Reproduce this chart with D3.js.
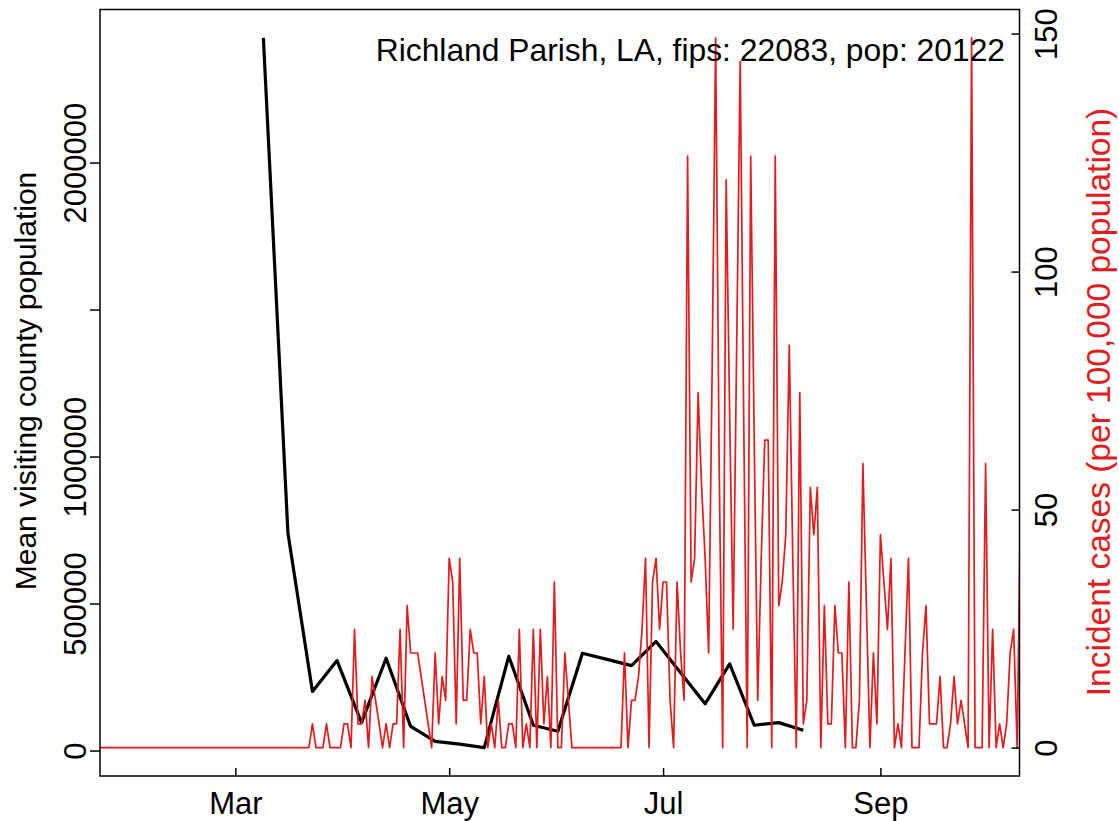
<!DOCTYPE html>
<html>
<head>
<meta charset="utf-8">
<script src="https://cdn.jsdelivr.net/npm/d3@7/dist/d3.min.js"></script>
<style>
  html, body { margin: 0; padding: 0; background: #fff; }
  svg text { font-family: "Liberation Sans", Arial, Helvetica, sans-serif; }
</style>
</head>
<body>
<svg id="chart" width="1119" height="821"></svg>
<script>
// ---------------- data ----------------
const titleText = "Richland Parish, LA, fips: 22083, pop: 20122";
const leftLabel = "Mean visiting county population";
const rightLabel = "Incident cases (per 100,000 population)";

// weekly mean visiting county population (black line)
const visitDates = ["2020-03-09","2020-03-16","2020-03-23","2020-03-30","2020-04-06","2020-04-13",
  "2020-04-20","2020-04-27","2020-05-04","2020-05-11","2020-05-18","2020-05-25","2020-06-01",
  "2020-06-08","2020-06-15","2020-06-22","2020-06-29","2020-07-06","2020-07-13","2020-07-20",
  "2020-07-27","2020-08-03","2020-08-10"];
const visitPop = [2424000, 740000, 201000, 306000, 95000, 314000,
  82000, 31500, 22000, 10000, 321000, 86000, 65500,
  331000, 310000, 289000, 371000, 265000, 159000, 295000,
  86000, 95000, 69000];

// daily incident cases per 100,000 (red line), starting at caseStart
const caseStart = "2020-01-21";
const incidentCases = [
  0,0,0,0,0,0,0,0,0,0, 0,0,0,0,0,0,0,0,0,0, 0,0,0,0,0,0,0,0,0,0,
  0,0,0,0,0,0,0,0,0,0, 0,0,0,0,0,0,0,0,0,0, 0,0,0,0,0,0,0,0,0,0,
  0,0,
  4.97,0,0,0,4.97,0,0,0,0,4.97,
  4.97,0,24.85,4.97,4.97,9.94,0,14.91,9.94,4.97,
  0,4.97,0,4.97,4.97,24.85,0,29.82,19.88,19.88,
  19.88,14.91,9.94,4.97,0,19.88,4.97,14.91,9.94,39.76,
  34.79,4.97,39.76,9.94,9.94,24.85,19.88,19.88,4.97,14.91,
  0,4.97,0,9.94,0,0,4.97,4.97,0,24.85,
  0,4.97,0,24.85,0,24.85,4.97,14.91,0,34.79,
  0,0,19.88,9.94,0,0,0,0,0,0,
  0,0,0,0,0,0,0,0,0,19.88,
  0,9.94,9.94,14.91,24.85,39.76,0,34.79,39.76,24.85,
  34.79,34.79,9.94,0,34.79,19.88,9.94,124.24,34.79,39.76,
  74.54,54.67,39.76,19.88,79.52,149.09,59.64,0,119.27,69.58,
  24.85,84.48,144.12,69.58,0,124.24,64.61,9.94,39.76,64.61,
  64.61,0,124.24,29.82,34.79,44.73,84.48,39.76,0,74.54,
  4.97,9.94,54.67,44.73,54.67,0,29.82,4.97,4.97,29.82,
  19.88,19.88,0,34.79,0,0,9.94,59.64,29.82,0,
  19.88,4.97,44.73,34.79,24.85,39.76,0,4.97,0,19.88,
  39.76,0,0,0,19.88,29.82,4.97,4.97,4.97,14.91,
  0,0,4.97,14.91,4.97,9.94,4.97,0,149.09,0,
  0,0,59.64,0,24.85,0,4.97,0,4.97,19.88,
  24.85,0,54.67
];

const xDomain = ["2020-01-22T09:36:00", "2020-10-10T16:00:00"];
const xTickDates = ["2020-03-01","2020-05-01","2020-07-01","2020-09-01"];
const xTickLabels = ["Mar","May","Jul","Sep"];
const leftTicks = [0, 500000, 1000000, 1500000, 2000000];
const leftTickLabels = ["0","500000","1000000","","2000000"];
const rightTicks = [0, 50, 100, 150];
const rightTickLabels = ["0","50","100","150"];

// ---------------- layout ----------------
const box = {left: 100, right: 1019.5, top: 9.5, bottom: 776};
const FONT = 31;
const RED = "#E41A1C";

const parse = d3.timeParse("%Y-%m-%d");
const parseT = d3.timeParse("%Y-%m-%dT%H:%M:%S");

const svg = d3.select("#chart");

const x = d3.scaleTime()
  .domain(xDomain.map(parseT))
  .range([box.left, box.right]);

function padded(ext) {
  const r = ext[1] - ext[0];
  return [ext[0] - 0.04 * r, ext[1] + 0.04 * r];
}
const yL = d3.scaleLinear().domain(padded(d3.extent(visitPop))).range([box.bottom, box.top]);
const yR = d3.scaleLinear().domain(padded(d3.extent(incidentCases))).range([box.bottom, box.top]);

const startDate = parse(caseStart);
const redData = incidentCases.map((v, i) => ({date: d3.timeDay.offset(startDate, i), v}));
const blackData = visitDates.map((d, i) => ({date: parse(d), v: visitPop[i]}));

svg.append("defs").append("clipPath").attr("id", "clip")
  .append("rect")
  .attr("x", box.left).attr("y", box.top)
  .attr("width", box.right - box.left).attr("height", box.bottom - box.top);

const plot = svg.append("g").attr("clip-path", "url(#clip)");

plot.append("path")
  .datum(blackData)
  .attr("fill", "none")
  .attr("stroke", "#000")
  .attr("stroke-width", 3.2)
  .attr("stroke-linejoin", "round")
  .attr("d", d3.line().x(d => x(d.date)).y(d => yL(d.v)));

plot.append("path")
  .datum(redData)
  .attr("fill", "none")
  .attr("stroke", RED)
  .attr("stroke-width", 1.7)
  .attr("stroke-linejoin", "round")
  .attr("d", d3.line().x(d => x(d.date)).y(d => yR(d.v)));

// box
svg.append("rect")
  .attr("x", box.left).attr("y", box.top)
  .attr("width", box.right - box.left).attr("height", box.bottom - box.top)
  .attr("fill", "none").attr("stroke", "#000").attr("stroke-width", 1.5);

// bottom axis (ticks inward)
const xAxis = d3.axisBottom(x)
  .tickValues(xTickDates.map(parse))
  .tickFormat((d, i) => xTickLabels[i])
  .tickSize(-8);
const gx = svg.append("g").attr("transform", `translate(0,${box.bottom})`).call(xAxis);
gx.select(".domain").remove();
gx.selectAll(".tick line").attr("stroke", "#000").attr("stroke-width", 1.5);
gx.selectAll(".tick text")
  .attr("y", 38).attr("dy", null)
  .attr("fill", "#000")
  .style("font-size", FONT + "px");

// left axis (ticks outward)
const yAxisL = d3.axisLeft(yL)
  .tickValues(leftTicks)
  .tickFormat((d, i) => leftTickLabels[i])
  .tickSize(10);
const gl = svg.append("g").attr("transform", `translate(${box.left},0)`).call(yAxisL);
gl.select(".domain").remove();
gl.selectAll(".tick line").attr("stroke", "#000").attr("stroke-width", 1.5);
gl.selectAll(".tick text")
  .attr("x", null).attr("dy", null)
  .attr("text-anchor", "middle")
  .attr("transform", "translate(-14,0) rotate(-90)")
  .attr("fill", "#000")
  .style("font-size", FONT + "px");

// right axis (ticks inward)
const yAxisR = d3.axisRight(yR)
  .tickValues(rightTicks)
  .tickFormat((d, i) => rightTickLabels[i])
  .tickSize(-8);
const gr = svg.append("g").attr("transform", `translate(${box.right},0)`).call(yAxisR);
gr.select(".domain").remove();
gr.selectAll(".tick line").attr("stroke", "#000").attr("stroke-width", 1.5);
gr.selectAll(".tick text")
  .attr("x", null).attr("dy", null)
  .attr("text-anchor", "middle")
  .attr("transform", "translate(37,0) rotate(-90)")
  .attr("fill", "#000")
  .style("font-size", FONT + "px");

svg.append("text")
  .attr("transform", `translate(36,381) rotate(-90)`)
  .attr("text-anchor", "middle")
  .style("font-size", "30px")
  .attr("fill", "#000")
  .text(leftLabel);

svg.append("text")
  .attr("transform", `translate(1110,402) rotate(-90)`)
  .attr("text-anchor", "middle")
  .style("font-size", "33.5px")
  .attr("fill", RED)
  .text(rightLabel);

svg.append("text")
  .attr("x", 1005).attr("y", 61)
  .attr("text-anchor", "end")
  .style("font-size", "31.8px")
  .attr("fill", "#000")
  .text(titleText);
</script>
</body>
</html>
